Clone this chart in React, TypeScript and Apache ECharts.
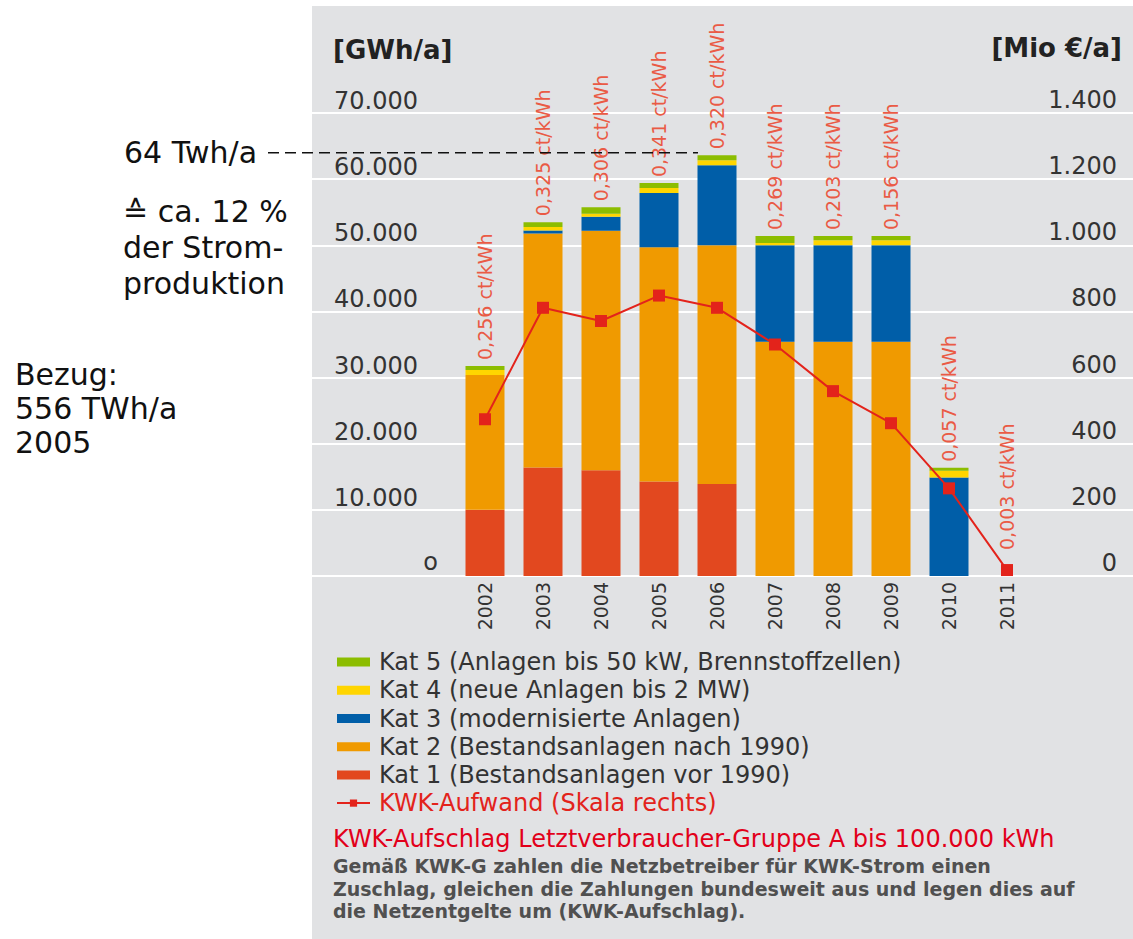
import React, { useEffect, useRef } from 'react';
import * as echarts from 'echarts';

const years = ['2002', '2003', '2004', '2005', '2006', '2007', '2008', '2009', '2010', '2011'];
const kat1 = [10000, 16400, 16000, 14300, 13900, 0, 0, 0, 0, 0];
const kat2 = [20400, 35400, 36200, 35400, 36100, 35400, 35400, 35400, 0, 0];
const kat3 = [0, 450, 2100, 8200, 12100, 14600, 14600, 14600, 14900, 0];
const kat4 = [750, 500, 450, 750, 750, 350, 750, 750, 1000, 0];
const kat5 = [600, 750, 1000, 750, 750, 1050, 650, 650, 450, 0];
const aufwand = [474, 811, 771, 848, 811, 700, 559, 462, 265, 18];
const rateLabels = ['0,256 ct/kWh', '0,325 ct/kWh', '0,306 ct/kWh', '0,341 ct/kWh', '0,320 ct/kWh', '0,269 ct/kWh', '0,203 ct/kWh', '0,156 ct/kWh', '0,057 ct/kWh', '0,003 ct/kWh'];
const leftTickLabels = ['o', '10.000', '20.000', '30.000', '40.000', '50.000', '60.000', '70.000'];
const rightTickLabels = ['0', '200', '400', '600', '800', '1.000', '1.200', '1.400'];
const seriesNames = [
  'Kat 1 (Bestandsanlagen vor 1990)',
  'Kat 2 (Bestandsanlagen nach 1990)',
  'Kat 3 (modernisierte Anlagen)',
  'Kat 4 (neue Anlagen bis 2 MW)',
  'Kat 5 (Anlagen bis 50 kW, Brennstoffzellen)',
];
const lineName = 'KWK-Aufwand (Skala rechts)';
const annotationValue = 64000;

const FONT = 'DejaVu Sans';
const catColors = ['#e2481f', '#f09a00', '#005ea8', '#ffd500', '#8cbd00'];
const RED = '#e3231b';
const TXT = '#333333';

export default function App() {
  const ref = useRef<HTMLDivElement>(null);
  useEffect(() => {
    if (!ref.current) return;
    const chart = echarts.init(ref.current, null, { renderer: 'svg' });
    const stacks = [kat1, kat2, kat3, kat4, kat5];
    const barSeries = stacks.map((arr, i) => ({
      name: seriesNames[i],
      type: 'bar',
      stack: 'total',
      xAxisIndex: 0,
      yAxisIndex: 0,
      barWidth: 39,
      itemStyle: { color: catColors[i] },
      data: arr.map((v, j) =>
        i === 4 && j === years.length - 1 ? { value: v, label: { distance: 26 } } : v
      ),
      label: i === 4 ? {
        show: true,
        position: 'top',
        rotate: 90,
        align: 'left',
        verticalAlign: 'middle',
        distance: 6,
        fontFamily: FONT,
        fontSize: 19,
        color: '#ea5a45',
        formatter: (p: any) => rateLabels[p.dataIndex],
      } : { show: false },
    }));

    const option: any = {
      animation: false,
      backgroundColor: '#ffffff',
      textStyle: { fontFamily: FONT },
      grid: [
        { left: 456, width: 580, top: 113, height: 463 },
        { left: 312, width: 821, top: 113, height: 463 },
      ],
      xAxis: [
        {
          type: 'category', gridIndex: 0, data: years,
          axisLine: { show: false }, axisTick: { show: false },
          axisLabel: { rotate: 90, fontSize: 19, color: TXT, fontFamily: FONT, margin: 6 },
        },
        { type: 'value', gridIndex: 1, min: 0, max: 1, show: false },
      ],
      yAxis: [
        {
          type: 'value', gridIndex: 0, min: 0, max: 70000, interval: 10000,
          splitLine: { show: false }, axisLine: { show: false }, axisTick: { show: false },
          axisLabel: {
            margin: 38, verticalAlign: 'bottom', fontSize: 24, color: TXT, fontFamily: FONT,
            padding: [0, 0, 0, 0],
            formatter: (v: number) => {
              const lbl = leftTickLabels[Math.round(v / 10000)];
              return v === 0 ? '{z|' + lbl + '}' : lbl;
            },
            rich: { z: { fontSize: 24, color: TXT, fontFamily: FONT, padding: [0, -20, 2, 0] } },
          },
        },
        {
          type: 'value', gridIndex: 0, position: 'right', min: 0, max: 1400, interval: 200,
          splitLine: { show: false }, axisLine: { show: false }, axisTick: { show: false },
          axisLabel: {
            margin: 81, align: 'right', verticalAlign: 'bottom', fontSize: 24, color: TXT, fontFamily: FONT,
            padding: [0, 0, 1, 0],
            formatter: (v: number) => rightTickLabels[Math.round(v / 200)],
          },
        },
        {
          type: 'value', gridIndex: 1, min: 0, max: 70000, interval: 10000,
          axisLine: { show: false }, axisTick: { show: false }, axisLabel: { show: false },
          splitLine: { show: true, lineStyle: { color: '#ffffff', width: 2 } },
        },
      ],
      legend: {
        orient: 'vertical',
        left: 331,
        top: 643,
        itemWidth: 33,
        itemHeight: 9,
        itemGap: 0,
        selectedMode: false,
        textStyle: { fontFamily: FONT, fontSize: 24, color: TXT, lineHeight: 28.2, padding: [0, 0, 0, 4] },
        data: [
          { name: seriesNames[4], icon: 'rect' },
          { name: seriesNames[3], icon: 'rect' },
          { name: seriesNames[2], icon: 'rect' },
          { name: seriesNames[1], icon: 'rect' },
          { name: seriesNames[0], icon: 'rect' },
          { name: lineName, textStyle: { color: RED } },
        ],
      },
      series: [
        ...barSeries,
        {
          name: lineName,
          type: 'line',
          xAxisIndex: 0,
          yAxisIndex: 1,
          data: aufwand,
          symbol: 'rect',
          symbolSize: 12,
          z: 5,
          itemStyle: { color: RED },
          lineStyle: { color: RED, width: 2 },
        },
      ],
    };
    chart.setOption(option);

    const dashY = chart.convertToPixel({ yAxisIndex: 0 }, annotationValue) as number;
    chart.setOption({
      graphic: [
        { type: 'rect', z: -100, shape: { x: 312, y: 6, width: 821, height: 933 }, style: { fill: '#e1e2e4' }, silent: true },
        { type: 'text', x: 333, y: 50, style: { text: '[GWh/a]', fontFamily: FONT, fontSize: 26, fontWeight: 'bold', fill: '#222', verticalAlign: 'middle' } },
        { type: 'text', x: 1122, y: 48, style: { text: '[Mio €/a]', fontFamily: FONT, fontSize: 26, fontWeight: 'bold', fill: '#222', align: 'right', verticalAlign: 'middle' } },
        { type: 'text', x: 124, y: dashY, style: { text: '64 Twh/a', fontFamily: FONT, fontSize: 30, fill: '#111', verticalAlign: 'middle' } },
        { type: 'line', z: 10, shape: { x1: 268, y1: dashY, x2: 698, y2: dashY }, style: { stroke: '#111', lineWidth: 1.5, lineDash: [11, 6] } },
        { type: 'text', x: 123, y: 193, style: { text: '≙ ca. 12 %\nder Strom-\nproduktion', fontFamily: FONT, fontSize: 30, lineHeight: 36, fill: '#111', verticalAlign: 'top' } },
        { type: 'text', x: 15, y: 357, style: { text: 'Bezug:\n556 TWh/a\n2005', fontFamily: FONT, fontSize: 30, lineHeight: 34, fill: '#111', verticalAlign: 'top' } },
        { type: 'text', x: 333, y: 839, style: { text: 'KWK-Aufschlag Letztverbraucher-Gruppe A bis 100.000 kWh', fontFamily: FONT, fontSize: 24, fill: '#e2001a', verticalAlign: 'middle' } },
        { type: 'text', x: 333, y: 855, style: { text: 'Gemäß KWK-G zahlen die Netzbetreiber für KWK-Strom einen\nZuschlag, gleichen die Zahlungen bundesweit aus und legen dies auf\ndie Netzentgelte um (KWK-Aufschlag).', fontFamily: FONT, fontSize: 19, fontWeight: 'bold', lineHeight: 22.5, fill: '#505050', verticalAlign: 'top' } },
      ],
    });
    return () => chart.dispose();
  }, []);
  return <div ref={ref} style={{ position: 'fixed', left: 0, top: 0, width: 1133, height: 939 }} />;
}
